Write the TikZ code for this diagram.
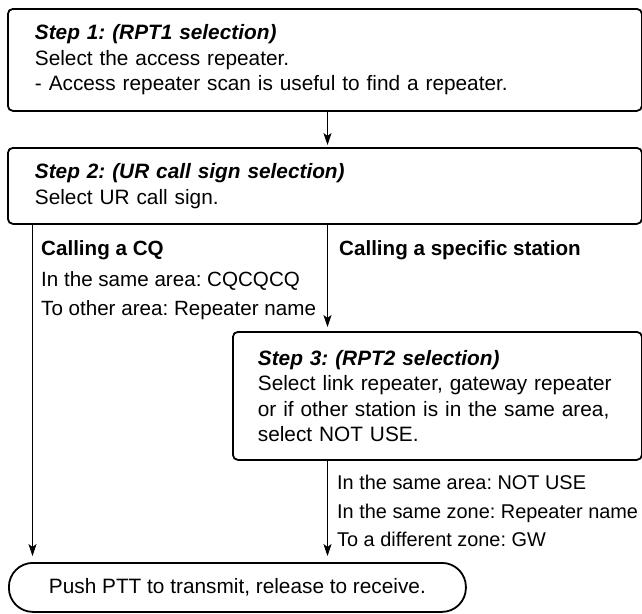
\documentclass[tikz,border=0pt]{standalone}
\usepackage{fontspec}
\setmainfont{Liberation Sans}
\usetikzlibrary{arrows.meta}
\frenchspacing
\begin{document}
\begin{tikzpicture}[x=1pt,y=-1pt,
  stepbox/.style={draw, line width=1.8pt, rounded corners=5pt, anchor=north west,
    align=left, inner ysep=0pt, font=\fontsize{20.8}{25.5}\selectfont},
  endbox/.style={draw, line width=1.8pt, rounded corners=24pt, anchor=north west,
    inner sep=0pt, font=\fontsize{20.8}{25}\selectfont},
  lbl/.style={anchor=base west, inner sep=0pt, font=\fontsize{20.6}{25}\selectfont},
  lblr/.style={anchor=base west, inner sep=0pt, font=\fontsize{19.9}{25}\selectfont},
  arr/.style={-{Stealth[length=12pt,width=8pt,inset=3pt]}, line width=1pt}]
\useasboundingbox (0,0) rectangle (642,613);
\node[stepbox, inner xsep=27pt, text width=580pt, minimum height=102pt] (s1) at (7,8)
  {\textbf{\textit{Step 1: (RPT1 selection)}}\\Select the access repeater.\\- Access repeater scan is useful to find a repeater.};
\node[stepbox, inner xsep=27pt, text width=580pt, minimum height=76pt] (s2) at (7,147)
  {\textbf{\textit{Step 2: (UR call sign selection)}}\\Select UR call sign.};
\node[stepbox, inner xsep=25pt, text width=359pt, minimum height=128pt] (s3) at (232,331)
  {\textbf{\textit{Step 3: (RPT2 selection)}}\\Select link repeater, gateway repeater\\or if other station is in the same area,\\select NOT USE.};
\node[endbox, minimum width=457pt, minimum height=49pt] (ptt) at (8,562)
  {Push PTT to transmit, release to receive.};
\node[lbl] (cq) at (41,255.5) {\textbf{Calling a CQ}};
\node[lbl] (cq1) at (41,286.5) {In the same area: CQCQCQ};
\node[lbl] (cq2) at (41,315.5) {To other area: Repeater name};
\node[lbl] (sp) at (339,255.5) {\textbf{Calling a specific station}};
\node[lblr] (r1) at (337,489.5) {In the same area: NOT USE};
\node[lblr] (r2) at (337,518.5) {In the same zone: Repeater name};
\node[lblr] (r3) at (337,546.5) {To a different zone: GW};
\coordinate (mid) at (327.5,0);
\coordinate (lft) at (32.5,0);
\draw[arr, shorten >=2pt] (s1.south -| mid) -- (s2.north -| mid);
\draw[arr, shorten >=4pt] (s2.south -| mid) -- (s3.north -| mid);
\draw[arr, shorten >=6pt] (s3.south -| mid) -- (ptt.north -| mid);
\draw[arr, shorten >=6pt] (s2.south -| lft) -- (ptt.north -| lft);
\end{tikzpicture}
\end{document}
